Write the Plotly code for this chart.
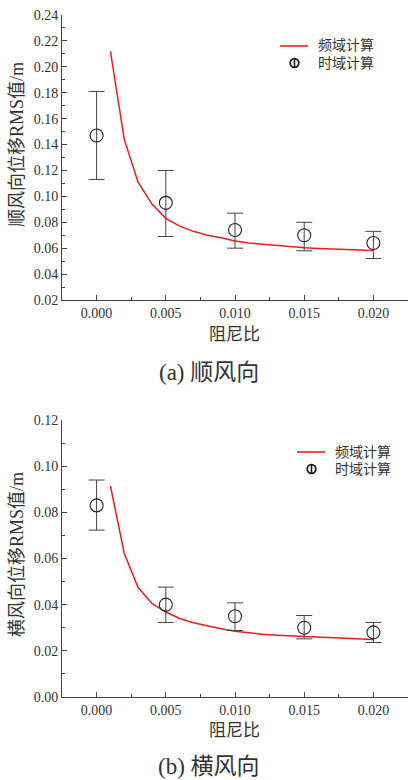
import plotly.graph_objects as go
from plotly.subplots import make_subplots

# Damping ratios for the time-domain runs
damping = [0.000, 0.005, 0.010, 0.015, 0.020]

# (a) along-wind RMS displacement, time domain: mean and error limits
along_mean = [0.147, 0.095, 0.074, 0.070, 0.064]
along_upper = [0.181, 0.120, 0.087, 0.080, 0.073]
along_lower = [0.113, 0.069, 0.060, 0.058, 0.052]

# (b) across-wind RMS displacement, time domain
across_mean = [0.083, 0.040, 0.035, 0.030, 0.028]
across_upper = [0.094, 0.0476, 0.0408, 0.0353, 0.0323]
across_lower = [0.0723, 0.0323, 0.0288, 0.0252, 0.0236]

# Frequency-domain curves
freq_damping = [0.001, 0.002, 0.003, 0.004, 0.005, 0.006, 0.007, 0.008, 0.009, 0.010,
                0.011, 0.012, 0.013, 0.014, 0.015, 0.016, 0.017, 0.018, 0.019, 0.020]
along_freq = [0.212, 0.144, 0.111, 0.094, 0.083, 0.077, 0.073, 0.070, 0.068, 0.0655,
              0.064, 0.063, 0.062, 0.061, 0.0603, 0.0598, 0.0593, 0.0589, 0.0585, 0.0582]
across_freq = [0.0914, 0.0622, 0.0474, 0.0405, 0.0368, 0.0340, 0.0322, 0.0308, 0.0296, 0.0285,
               0.0278, 0.0272, 0.0268, 0.0265, 0.0262, 0.0259, 0.0256, 0.0254, 0.0251, 0.0249]

x_ticks = [0.000, 0.005, 0.010, 0.015, 0.020]
x_tick_text = ["0.000", "0.005", "0.010", "0.015", "0.020"]

legend_names = ["频域计算", "时域计算"]

SERIF = "Liberation Serif, Times New Roman, Noto Sans CJK SC, serif"
INK = "#333333"
RED = "#ee1c1c"

W, H = 409, 780
ML, MR, MT, MB = 62, 1, 15, 83
PW, PH = W - ML - MR, H - MT - MB


def px(x):
    """pixel x -> paper x"""
    return (x - ML) / PW


def py(y):
    """pixel y (from top) -> paper y"""
    return (H - MB - y) / PH


fig = make_subplots(rows=2, cols=1)

panels = [
    (1, along_freq, along_mean, along_upper, along_lower),
    (2, across_freq, across_mean, across_upper, across_lower),
]
for row, freq, mean, upper, lower in panels:
    fig.add_trace(go.Scatter(
        x=freq_damping, y=freq, mode="lines", name=legend_names[0],
        line=dict(color=RED, width=1.5), showlegend=False,
    ), row=row, col=1)
    fig.add_trace(go.Scatter(
        x=damping, y=mean, mode="markers", name=legend_names[1],
        marker=dict(symbol="circle-open", size=13, color="#222222", line=dict(width=1.1)),
        error_y=dict(type="data", symmetric=False,
                     array=[u - m for u, m in zip(upper, mean)],
                     arrayminus=[m - l for m, l in zip(mean, lower)],
                     color="#444444", thickness=1, width=8),
        showlegend=False,
    ), row=row, col=1)

axis_common = dict(
    showline=True, linecolor="#444444", linewidth=1, mirror=False,
    ticks="inside", ticklen=5, tickcolor="#444444", showgrid=False, zeroline=False,
    tickfont=dict(family=SERIF, size=14, color=INK),
)
for row in (1, 2):
    fig.update_xaxes(range=[-0.0025, 0.0225], tickvals=x_ticks, ticktext=x_tick_text,
                     minor=dict(ticks="inside", ticklen=3, dtick=0.0025, tick0=0, tickcolor="#444444"),
                     row=row, col=1, **axis_common)

fig.update_yaxes(range=[0.02, 0.24], dtick=0.02, tick0=0.02, tickformat=".2f",
                 minor=dict(ticks="inside", ticklen=3, dtick=0.01, tickcolor="#444444"),
                 domain=[py(300), 1.0], row=1, col=1, **axis_common)
fig.update_yaxes(range=[0.0, 0.12], dtick=0.02, tick0=0, tickformat=".2f",
                 minor=dict(ticks="inside", ticklen=3, dtick=0.01, tickcolor="#444444"),
                 domain=[0.0, py(420)], row=2, col=1, **axis_common)

annotations = []
shapes = []

# axis titles and captions
for ytitle, yc, xt_y, caption, cap_y in [
    ("顺风向位移RMS值/m", 145, 334, "(a) 顺风向", 372),
    ("横风向位移RMS值/m", 555, 730, "(b) 横风向", 767),
]:
    annotations.append(dict(text=ytitle, x=px(17), y=py(yc), xref="paper", yref="paper",
                            xanchor="center", yanchor="middle", textangle=-90, showarrow=False,
                            font=dict(family=SERIF, size=18, color=INK)))
    annotations.append(dict(text="阻尼比", x=px(234), y=py(xt_y), xref="paper", yref="paper",
                            xanchor="center", yanchor="middle", showarrow=False,
                            font=dict(family=SERIF, size=17, color=INK)))
    annotations.append(dict(text=caption, x=px(209), y=py(cap_y), xref="paper", yref="paper",
                            xanchor="center", yanchor="middle", showarrow=False,
                            font=dict(family=SERIF, size=23, color=INK)))

# legends (line sample, circle-with-bar sample, labels)
for lx0, ly in [(280, 46), (297, 452)]:
    y1, y2 = ly, ly + 17
    cx = lx0 + 14.5
    shapes.append(dict(type="line", xref="paper", yref="paper",
                       x0=px(lx0), x1=px(lx0 + 28), y0=py(y1), y1=py(y1),
                       line=dict(color=RED, width=1.6)))
    shapes.append(dict(type="circle", xref="paper", yref="paper",
                       x0=px(cx - 4.3), x1=px(cx + 4.3), y0=py(y2 - 4.3), y1=py(y2 + 4.3),
                       line=dict(color="#1a1a1a", width=1.8)))
    shapes.append(dict(type="line", xref="paper", yref="paper",
                       x0=px(cx), x1=px(cx), y0=py(y2 - 4.3), y1=py(y2 + 4.3),
                       line=dict(color="#1a1a1a", width=1.6)))
    for name, yy in zip(legend_names, (y1, y2)):
        annotations.append(dict(text=name, x=px(lx0 + 36), y=py(yy), xref="paper", yref="paper",
                                xanchor="left", yanchor="middle", showarrow=False,
                                font=dict(family=SERIF, size=14, color=INK)))

fig.update_layout(
    width=W, height=H,
    margin=dict(l=ML, r=MR, t=MT, b=MB),
    paper_bgcolor="white", plot_bgcolor="white",
    showlegend=False,
    annotations=annotations,
    shapes=shapes,
)

fig.write_html("out.html")
